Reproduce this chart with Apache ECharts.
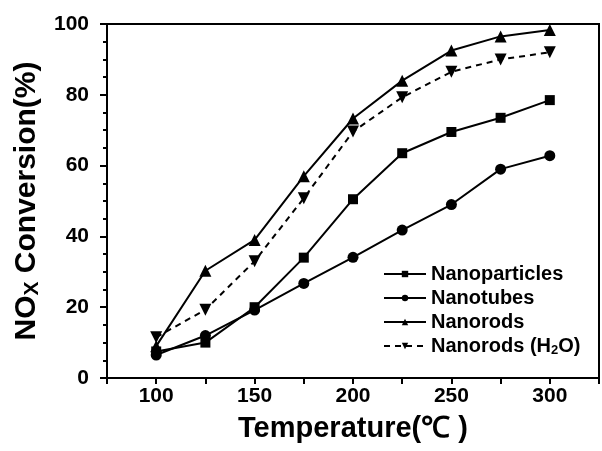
<!DOCTYPE html>
<html>
<head>
<meta charset="utf-8">
<script src="https://cdn.jsdelivr.net/npm/echarts@6/dist/echarts.min.js"></script>
<style>
    html, body {margin: 0; padding: 0; background: #fff;}
    #chart {width: 602px; height: 451px;}
</style>
</head>
<body>
<div id="chart"></div>
<script>
var temps = [100, 125, 150, 175, 200, 225, 250, 275, 300];
var nanoparticles = [7.5, 10, 20, 34, 50.5, 63.5, 69.5, 73.5, 78.5];
var nanotubes = [6.5, 12, 19.2, 26.7, 34.1, 41.8, 49, 59, 62.8];
var nanorods = [9, 30.3, 39, 57, 73.3, 84, 92.5, 96.5, 98.3];
var nanorodsH2O = [11.5, 19.3, 33, 50.8, 69.6, 79.3, 86.5, 90, 92];

var seriesNames = ['Nanoparticles', 'Nanotubes', 'Nanorods', 'Nanorods (H2O)'];

var FONT = '"Liberation Sans", Arial, sans-serif';
var downTri = 'path://M0,0 L12,0 L6,11 Z';

function pairs(ys) {
    return temps.map(function (t, i) {
        return [t, ys[i]];
    });
}

function makeSeries(name, ys, symbol, size, dashed) {
    return {
        name: name,
        type: 'line',
        data: pairs(ys),
        symbol: symbol,
        symbolSize: size,
        lineStyle: {color: '#000', width: 2, type: dashed ? [6, 5] : 'solid'},
        itemStyle: {color: '#000'},
        z: 3
    };
}

var myChart = echarts.init(document.getElementById('chart'));

var option = {
    backgroundColor: '#fff',
    animation: false,
    grid: {
        left: 107, right: 1, top: 24, bottom: 73,
        show: true, borderColor: '#000', borderWidth: 2
    },
    legend: {
        orient: 'vertical',
        left: 378,
        top: 259,
        itemGap: 4,
        itemWidth: 42,
        itemHeight: 8,
        data: seriesNames,
        textStyle: {
            fontFamily: FONT, fontWeight: 'bold', fontSize: 20, color: '#000',
            rich: {
                sub: {fontFamily: FONT, fontWeight: 'bold', fontSize: 13, color: '#000', padding: [8, 0, 0, 0]}
            }
        },
        formatter: function (name) {
            return name === 'Nanorods (H2O)' ? 'Nanorods (H{sub|2}O)' : name;
        }
    },
    xAxis: {
        type: 'value',
        min: 75,
        max: 325,
        interval: 25,
        name: 'Temperature(\u2103 )',
        nameLocation: 'middle',
        nameGap: 36,
        nameTextStyle: {fontFamily: FONT, fontWeight: 'bold', fontSize: 29, color: '#000'},
        axisLine: {lineStyle: {color: '#000', width: 2}},
        axisTick: {inside: false, length: 6, lineStyle: {color: '#000', width: 2}},
        axisLabel: {
            margin: 8,
            fontFamily: FONT, fontWeight: 'bold', fontSize: 21, color: '#000',
            formatter: function (v) {
                return (v % 50 === 0) ? String(v) : '';
            }
        },
        splitLine: {show: false}
    },
    yAxis: {
        type: 'value',
        min: 0,
        max: 100,
        interval: 20,
        name: 'NO{sub|X} Conversion(%)',
        nameLocation: 'middle',
        nameGap: 62,
        nameRotate: 90,
        nameTextStyle: {
            fontFamily: FONT, fontWeight: 'bold', fontSize: 30, color: '#000',
            rich: {
                sub: {fontFamily: FONT, fontWeight: 'bold', fontSize: 21, color: '#000', padding: [12, 0, 0, 0]}
            }
        },
        axisLine: {lineStyle: {color: '#000', width: 2}},
        axisTick: {inside: false, length: 7, lineStyle: {color: '#000', width: 2}},
        minorTick: {show: true, splitNumber: 4, length: 4, lineStyle: {color: '#000', width: 2}},
        axisLabel: {margin: 18, fontFamily: FONT, fontWeight: 'bold', fontSize: 21, color: '#000'},
        splitLine: {show: false},
        minorSplitLine: {show: false}
    },
    series: [
        makeSeries(seriesNames[0], nanoparticles, 'rect', 10, false),
        makeSeries(seriesNames[1], nanotubes, 'circle', 11, false),
        makeSeries(seriesNames[2], nanorods, 'triangle', 12, false),
        makeSeries(seriesNames[3], nanorodsH2O, downTri, 12, true)
    ]
};

myChart.setOption(option);
</script>
</body>
</html>
